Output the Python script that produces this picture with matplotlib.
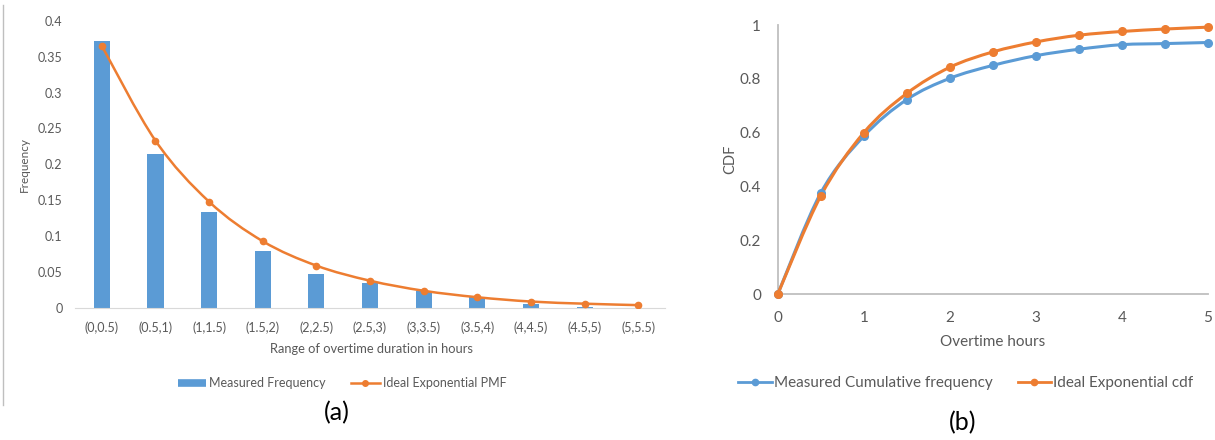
import numpy as np
import matplotlib
matplotlib.use('Agg')
import matplotlib.pyplot as plt
from matplotlib.lines import Line2D
from matplotlib.path import Path
from matplotlib.patches import PathPatch

plt.rcParams['font.family'] = ['Lato', 'DejaVu Sans']

# (a) overtime duration histogram vs ideal exponential pmf
ranges = ['(0,0.5)', '(0.5,1)', '(1,1.5)', '(1.5,2)', '(2,2.5)', '(2.5,3)',
          '(3,3.5)', '(3.5,4)', '(4,4.5)', '(4.5,5)', '(5,5.5)']
measured_freq = [0.372, 0.214, 0.133, 0.079, 0.048, 0.035, 0.024, 0.016, 0.006, 0.002, 0.0]
ideal_pmf = [0.365, 0.233, 0.148, 0.093, 0.059, 0.038, 0.024, 0.015, 0.009, 0.006, 0.004]

# (b) cumulative distribution
hours = [0, 0.5, 1, 1.5, 2, 2.5, 3, 3.5, 4, 4.5, 5]
measured_cdf = [0, 0.376, 0.587, 0.723, 0.802, 0.850, 0.886, 0.910, 0.927, 0.931, 0.935]
ideal_cdf = [0, 0.365, 0.600, 0.746, 0.843, 0.900, 0.937, 0.962, 0.976, 0.985, 0.992]

blue = '#5B9BD5'
orange = '#ED7D31'
txt = '#595959'

W, H = 1215, 440
fig = plt.figure(figsize=(W / 100, H / 100), dpi=100)

def px_axes(x0, y0, x1, y1):
    # pixel box (left, top, right, bottom) -> figure fraction axes
    return fig.add_axes([x0 / W, 1 - y1 / H, (x1 - x0) / W, (y1 - y0) / H])

def smooth_line(ax, xs, ys, **kw):
    # Catmull-Rom style bezier through the points, like a spreadsheet "smoothed line"
    p = np.column_stack([xs, ys]).astype(float)
    n = len(p)
    verts = [p[0]]
    codes = [Path.MOVETO]
    for i in range(n - 1):
        p0 = p[i - 1] if i > 0 else p[i]
        p3 = p[i + 2] if i + 2 < n else p[i + 1]
        c1 = p[i] + (p[i + 1] - p0) / 6
        c2 = p[i + 1] - (p3 - p[i]) / 6
        verts += [c1, c2, p[i + 1]]
        codes += [Path.CURVE4] * 3
    ax.add_patch(PathPatch(Path(verts, codes), fill=False, capstyle='round',
                           joinstyle='round', **kw))

# frame line of the left chart area
fig.add_artist(Line2D([3 / W, 3 / W], [1 - 405 / H, 1 - 5 / H], color='#BFBFBF', lw=1))

# ---- left panel
ax1 = px_axes(75, 20.7, 665, 308)
x = np.arange(len(ranges))
ax1.bar(x, measured_freq, width=0.3, color=blue, zorder=2)
smooth_line(ax1, x, ideal_pmf, edgecolor=orange, lw=1.8, zorder=3)
ax1.plot(x, ideal_pmf, ls='none', color=orange, marker='o', ms=4.5, zorder=4)
ax1.set_xlim(-0.5, len(ranges) - 0.5)
ax1.set_ylim(0, 0.4)
ax1.set_yticks(np.arange(0, 0.41, 0.05))
ax1.set_yticklabels(['0', '0.05', '0.1', '0.15', '0.2', '0.25', '0.3', '0.35', '0.4'])
ax1.set_xticks(x)
ax1.set_xticklabels(ranges)
ax1.tick_params(length=0, colors=txt, labelsize=9)
ax1.tick_params(axis='x', pad=10)
ax1.tick_params(axis='y', pad=9)
for s in ['top', 'right', 'left']:
    ax1.spines[s].set_visible(False)
ax1.spines['bottom'].set_color('#D9D9D9')
ax1.set_ylabel('Frequency', color=txt, fontsize=8.5, labelpad=6)
fig.text(371 / W, 1 - 349 / H, 'Range of overtime duration in hours', color=txt,
         fontsize=9.3, ha='center', va='center')
h1 = [Line2D([], [], color=blue, lw=5.5, solid_capstyle='butt'),
      Line2D([], [], color=orange, lw=1.8, marker='o', ms=4)]
fig.legend(h1, ['Measured Frequency', 'Ideal Exponential PMF'], loc='center',
           bbox_to_anchor=(342 / W, 1 - 383 / H), ncol=2, frameon=False,
           fontsize=9, labelcolor=txt, handlelength=2.3, handletextpad=0.25,
           columnspacing=2.0)
fig.text(337 / W, 1 - 413 / H, '(a)', fontsize=18, ha='center', va='center')

# ---- right panel
ax2 = px_axes(777.7, 25, 1208, 294.3)
smooth_line(ax2, hours, measured_cdf, edgecolor=blue, lw=2.2, zorder=3)
smooth_line(ax2, hours, ideal_cdf, edgecolor=orange, lw=2.2, zorder=4)
ax2.plot(hours, measured_cdf, ls='none', color=blue, marker='o', ms=5.5, zorder=5, clip_on=False)
ax2.plot(hours, ideal_cdf, ls='none', color=orange, marker='o', ms=5.5, zorder=6, clip_on=False)
ax2.set_xlim(0, 5)
ax2.set_ylim(0, 1)
ax2.set_xticks(range(6))
ax2.set_yticks([0, 0.2, 0.4, 0.6, 0.8, 1])
ax2.set_yticklabels(['0', '0.2', '0.4', '0.6', '0.8', '1'])
ax2.tick_params(length=0, colors=txt, labelsize=11)
ax2.tick_params(axis='x', pad=12)
ax2.tick_params(axis='y', pad=12)
for s in ['top', 'right']:
    ax2.spines[s].set_visible(False)
for s in ['left', 'bottom']:
    ax2.spines[s].set_color('#BFBFBF')
    ax2.spines[s].set_linewidth(1.3)
ax2.set_ylabel('CDF', color=txt, fontsize=10.5, labelpad=2)
fig.text(993 / W, 1 - 342 / H, 'Overtime hours', color=txt, fontsize=11,
         ha='center', va='center')
h2 = [Line2D([], [], color=blue, lw=2, marker='o', ms=4.5),
      Line2D([], [], color=orange, lw=2, marker='o', ms=4.5)]
fig.legend(h2, ['Measured Cumulative frequency', 'Ideal Exponential cdf'], loc='center',
           bbox_to_anchor=(966 / W, 1 - 383 / H), ncol=2, frameon=False,
           fontsize=11, labelcolor=txt, handlelength=2.2, handletextpad=0.15,
           columnspacing=1.6)
fig.text(963 / W, 1 - 423 / H, '(b)', fontsize=18, ha='center', va='center')

fig.savefig('out.png', dpi=100)
